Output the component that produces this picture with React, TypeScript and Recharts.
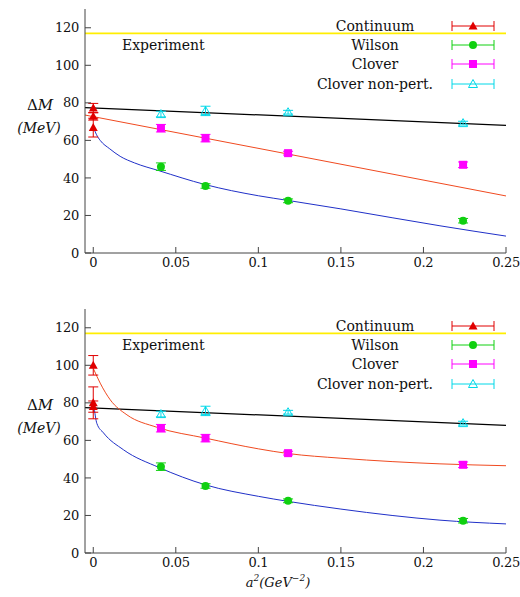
import React from 'react'
import {
  ComposedChart, Line, Scatter, XAxis, YAxis, ErrorBar, ReferenceLine, Legend,
} from 'recharts'

const serif = "'DejaVu Serif', 'Liberation Serif', serif"

const xTicks = [0, 0.05, 0.1, 0.15, 0.2, 0.25]
const yTicks = [0, 20, 40, 60, 80, 100, 120]
const experimentValue = 117

// lattice points (same in both panels)
const latticeA2 = [0.041, 0.068, 0.118, 0.224]
const wilsonDM = [46, 35.7, 27.8, 17.2]
const wilsonErr = [2, 1.2, 1, 1.2]
const cloverDM = [66.5, 61.2, 53.2, 47]
const cloverErr = [2, 2, 1, 1.5]
const nonPertDM = [74, 75.7, 75, 69.2]
const nonPertErr = [1.5, 2.5, 1, 1]

// continuum extrapolations at a^2 = 0
const contA2 = [0, 0, 0]
const contTopDM = [77.2, 72.8, 66.8]
const contTopErr = [2.5, 2, 5]
const contBotDM = [100, 80, 78]
const contBotErr = [5.2, 8.5, 3]

// fit curves
const blackFitX = [-0.005, 0.25]
const blackFitY = [77.5, 68]

const redTopX = [-0.005, 0.25]
const redTopY = [73.5, 30.4]
const blueTopX = [0.0005, 0.002, 0.0042, 0.01, 0.0163, 0.025, 0.04, 0.0676, 0.1, 0.118, 0.15, 0.181, 0.21, 0.25]
const blueTopY = [66, 63, 60, 55.5, 51.5, 48, 43.8, 36.5, 30.5, 28, 23.5, 18.8, 14.5, 9]

const redBotX = [0.0002, 0.0042, 0.0103, 0.0204, 0.0385, 0.068, 0.1, 0.118, 0.15, 0.181, 0.21, 0.25]
const redBotY = [98, 90.5, 81.6, 73.6, 67, 61.2, 55.5, 53, 50.5, 48.7, 47.5, 46.5]
const blueBotX = [0.0003, 0.0022, 0.0062, 0.0183, 0.04, 0.068, 0.1, 0.118, 0.15, 0.181, 0.21, 0.25]
const blueBotY = [79, 69, 64, 55, 45.5, 36.3, 30.2, 27.5, 23.4, 20, 17.5, 15.5]

const legendNames = ['Continuum', 'Wilson', 'Clover', 'Clover non-pert.']
const legendColors = ['#e00000', '#10d010', '#ff00ff', '#00d8e8']
const legendShapes = ['tri', 'circle', 'square', 'openTri']

const zip = (xs: number[], ys: number[], es?: number[]) =>
  xs.map((x, i) => ({ x, y: ys[i], e: es ? es[i] : 0 }))

const marker = (kind: string, color: string, cx: number, cy: number) => {
  if (kind === 'circle') return <circle cx={cx} cy={cy} r={4} fill={color} />
  if (kind === 'square') return <rect x={cx - 4} y={cy - 4} width={8} height={8} fill={color} />
  const pts = `${cx - 4.5},${cy + 3.5} ${cx + 4.5},${cy + 3.5} ${cx},${cy - 4.5}`
  if (kind === 'openTri') return <polygon points={pts} fill="none" stroke={color} strokeWidth={1} />
  return <polygon points={pts} fill={color} />
}

const shapeFor = (i: number) => (props: any) => marker(legendShapes[i], legendColors[i], props.cx, props.cy)

const renderLegend = () => (
  <div style={{ position: 'relative', width: 200, height: 80, fontFamily: serif, fontSize: 14, color: '#111' }}>
    {legendNames.map((name, i) => (
      <div key={name} style={{
        position: 'absolute', top: i * 19.4, left: 0, height: 19, width: 200,
        display: 'flex', alignItems: 'center',
      }}>
        <span style={{ width: 150, textAlign: 'center', whiteSpace: 'nowrap' }}>{name}</span>
        <svg width={44} height={14} style={{ marginLeft: 1 }}>
          <line x1={1} y1={7} x2={43} y2={7} stroke={legendColors[i]} />
          <line x1={1} y1={2} x2={1} y2={12} stroke={legendColors[i]} />
          <line x1={43} y1={2} x2={43} y2={12} stroke={legendColors[i]} />
          {marker(legendShapes[i], legendColors[i], 22, 7)}
        </svg>
      </div>
    ))}
  </div>
)

const axisColor = '#444'
const tickStyle = { fill: '#111', fontSize: 13, fontFamily: serif, letterSpacing: -0.3 }

interface PanelProps {
  height: number
  bottom: number
  redX: number[]
  redY: number[]
  blueX: number[]
  blueY: number[]
  contDM: number[]
  contErr: number[]
  redCurved: boolean
  showXLabel: boolean
}

const Panel = (props: PanelProps) => {
  const errBar = (c: string) => (
    <ErrorBar dataKey="e" direction="y" width={5} stroke={c} strokeWidth={1} />
  )
  return (
    <ComposedChart
      width={520}
      height={props.height}
      margin={{ top: 9, right: 14, left: 25, bottom: props.bottom }}
      style={{ fontFamily: serif }}
    >
      <XAxis
        type="number" dataKey="x" domain={[-0.005, 0.25]} ticks={xTicks}
        allowDataOverflow height={30} stroke={axisColor}
        tickSize={-6} tickMargin={11} tick={tickStyle}
        tickFormatter={(v: number) => String(v)}
        label={props.showXLabel ? {
          content: () => (
            <text x={278} y={287} textAnchor="middle" fontFamily={serif} fontSize={13} fontStyle="italic" fill="#111">
              a<tspan dy={-6} fontSize={9}>2</tspan>
              <tspan dy={6}>(GeV</tspan>
              <tspan dy={-6} fontSize={9}>−2</tspan>
              <tspan dy={6}>)</tspan>
            </text>
          ),
        } : undefined}
      />
      <XAxis
        xAxisId="top" orientation="top" type="number" domain={[-0.005, 0.25]}
        ticks={xTicks} allowDataOverflow height={0} stroke={axisColor}
        tickSize={-6} tick={false}
      />
      <YAxis
        type="number" dataKey="y" domain={[0, 130]} ticks={yTicks}
        allowDataOverflow width={60} stroke={axisColor}
        tickSize={-6} tickMargin={12} tick={tickStyle}
        label={{
          content: () => (
            <g fontFamily={serif} fill="#111">
              <text x={40} y={110} textAnchor="middle" fontSize={15}>
                Δ<tspan fontStyle="italic">M</tspan>
              </text>
              <text x={39} y={133} textAnchor="middle" fontSize={14} fontStyle="italic">(MeV)</text>
            </g>
          ),
        }}
      />
      <YAxis
        yAxisId="right" orientation="right" type="number" domain={[0, 130]}
        ticks={yTicks} allowDataOverflow width={0} stroke={axisColor}
        tickSize={-6} tick={false}
      />
      <ReferenceLine
        y={experimentValue} stroke="#ffee00" strokeWidth={1.6}
        label={{
          content: () => (
            <text x={122} y={50} fontFamily={serif} fontSize={14} fill="#111">Experiment</text>
          ),
        }}
      />
      <Legend
        content={renderLegend}
        layout="horizontal" verticalAlign="middle" align="center"
        wrapperStyle={{ top: 16, left: 300, width: 200 }}
      />
      <Line data={zip(blackFitX, blackFitY)} dataKey="y" type="linear" stroke="#000" strokeWidth={1.2}
        dot={false} isAnimationActive={false} legendType="none" />
      <Line data={zip(props.redX, props.redY)} dataKey="y" type={props.redCurved ? 'monotone' : 'linear'}
        stroke="#f04a20" strokeWidth={1} dot={false} isAnimationActive={false} legendType="none" />
      <Line data={zip(props.blueX, props.blueY)} dataKey="y" type="monotone" stroke="#2030c8"
        strokeWidth={1} dot={false} isAnimationActive={false} legendType="none" />
      <Scatter data={zip(contA2, props.contDM, props.contErr)} dataKey="y" shape={shapeFor(0)} isAnimationActive={false}>
        {errBar(legendColors[0])}
      </Scatter>
      <Scatter data={zip(latticeA2, wilsonDM, wilsonErr)} dataKey="y" shape={shapeFor(1)} isAnimationActive={false}>
        {errBar(legendColors[1])}
      </Scatter>
      <Scatter data={zip(latticeA2, cloverDM, cloverErr)} dataKey="y" shape={shapeFor(2)} isAnimationActive={false}>
        {errBar(legendColors[2])}
      </Scatter>
      <Scatter data={zip(latticeA2, nonPertDM, nonPertErr)} dataKey="y" shape={shapeFor(3)} isAnimationActive={false}>
        {errBar(legendColors[3])}
      </Scatter>
    </ComposedChart>
  )
}

const App = () => (
  <div style={{ position: 'absolute', left: 0, top: 0, width: 520, height: 597, background: '#fff' }}>
    <Panel height={300} bottom={17} redX={redTopX} redY={redTopY} blueX={blueTopX} blueY={blueTopY}
      contDM={contTopDM} contErr={contTopErr} redCurved={false} showXLabel={false} />
    <Panel height={297} bottom={14} redX={redBotX} redY={redBotY} blueX={blueBotX} blueY={blueBotY}
      contDM={contBotDM} contErr={contBotErr} redCurved={true} showXLabel={true} />
  </div>
)

export default App
